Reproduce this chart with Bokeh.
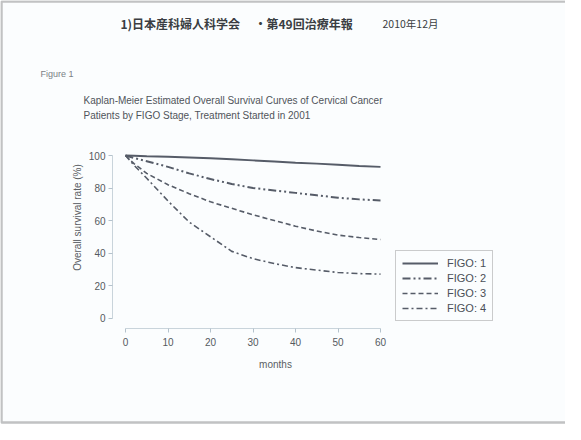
import math
from bokeh.plotting import figure
from bokeh.models import Label, BoxAnnotation, Legend, LegendItem, Range1d, FixedTicker
from bokeh.embed import file_html
from bokeh.resources import INLINE

# ---- data ----
months = [0, 2, 5, 10, 15, 20, 25, 30, 35, 40, 45, 50, 55, 60]
figo1 = [100, 99.8, 99.5, 99.2, 98.8, 98.3, 97.7, 97.0, 96.3, 95.6, 95.0, 94.3, 93.6, 93.0]
figo2 = [100, 98.5, 96.5, 93.0, 89.0, 85.5, 82.5, 80.0, 78.5, 77.0, 75.5, 74.0, 73.0, 72.3]
figo3 = [100, 95.0, 89.0, 82.0, 76.5, 71.5, 67.5, 63.5, 60.0, 56.5, 53.5, 51.0, 49.5, 48.3]
figo4 = [100, 94.0, 86.0, 72.0, 59.0, 50.0, 41.0, 36.5, 33.5, 31.0, 29.5, 28.0, 27.3, 27.0]
series_names = ["FIGO: 1", "FIGO: 2", "FIGO: 3", "FIGO: 4"]
x_ticks = [0, 10, 20, 30, 40, 50, 60]
y_ticks = [0, 20, 40, 60, 80, 100]

header1 = "1)日本産科婦人科学会"
header2 = "・第49回治療年報"
header3 = "2010年12月"
fig_label = "Figure 1"
title1 = "Kaplan-Meier Estimated Overall Survival Curves of Cervical Cancer"
title2 = "Patients by FIGO Stage, Treatment Started in 2001"
x_label = "months"
y_label = "Overall survival rate (%)"

# ---- geometry: the frame covers the whole canvas (page px = canvas px + 8) ----
W, H = 565, 424
X0_PX, X_PER = 133.0, 4.25      # page x of month 0, px per month
Y0_PX, Y_PER = 325.5, 1.625     # page y of 0 %, px per %

def xd(px):  # page x -> data
    return (px - X0_PX) / X_PER

def yd(py):  # page y -> data
    return (Y0_PX - py) / Y_PER

ink = "#4a4f57"
curve = "#565c68"
faint = "#b4c2cc"
bg = "#fbfdfe"
FONT = "Liberation Sans"
CJK = "Noto Sans CJK JP"

p = figure(width=W, height=H, output_backend="svg", toolbar_location=None,
           x_range=Range1d(xd(8), xd(8 + W)), y_range=Range1d(yd(8 + H), yd(8)),
           min_border=0, min_border_left=0, min_border_right=0,
           min_border_top=0, min_border_bottom=0)
p.background_fill_color = bg
p.border_fill_color = bg
p.outline_line_color = None
p.grid.visible = False

for ax in (p.xaxis[0], p.yaxis[0]):
    ax.axis_line_color = faint
    ax.axis_line_alpha = 0.7
    ax.major_tick_line_color = faint
    ax.major_tick_out = 4
    ax.major_tick_in = 0
    ax.minor_tick_line_color = None
    ax.major_label_text_color = "#555a60"
    ax.major_label_text_font = FONT
    ax.major_label_text_font_size = "10px"
p.xaxis[0].ticker = FixedTicker(ticks=x_ticks)
p.yaxis[0].ticker = FixedTicker(ticks=y_ticks)
p.xaxis[0].bounds = (x_ticks[0], x_ticks[-1])
p.yaxis[0].bounds = (y_ticks[0], y_ticks[-1])
p.xaxis[0].fixed_location = yd(336)
p.yaxis[0].fixed_location = xd(120)
p.xaxis[0].major_label_standoff = 5
p.yaxis[0].major_label_standoff = 3

styles = [("solid", 2.0), ("8 3 2 3 2 3", 2.0), ("5 3", 1.6), ("6 3 2 3", 1.6)]
renderers = []
for ys, (dash, lw) in zip([figo1, figo2, figo3, figo4], styles):
    r = p.line(months, ys, line_color=curve, line_width=lw, line_dash=dash)
    renderers.append(r)

legend = Legend(items=[LegendItem(label=n, renderers=[r]) for n, r in zip(series_names, renderers)],
                location=(403 - 8, (8 + H) - 329), orientation="vertical",
                glyph_width=36, glyph_height=12, label_height=12, spacing=3,
                padding=6, margin=0, label_standoff=9,
                label_text_font=FONT, label_text_font_size="11px", label_text_color=ink,
                border_line_color="#9a9a9a", border_line_width=1,
                background_fill_color=bg, background_fill_alpha=1)
p.add_layout(legend)

def lab(text, px, py, size, color=ink, align="left", style="normal", angle=0.0, font=FONT):
    p.add_layout(Label(x=xd(px), y=yd(py), text=text,
                       text_font=font, text_font_size=size, text_color=color,
                       text_align=align, text_baseline="middle", text_font_style=style,
                       angle=angle))

lab(header1, 128, 31, "12px", color="#3a3d42", style="bold", font=CJK)
lab(header2, 262, 31, "12px", color="#3a3d42", style="bold", font=CJK)
lab(header3, 390, 31, "10.5px", color="#3a3d42", font=CJK)
lab(fig_label, 48, 81, "9px", color="#7a7f86")
lab(title1, 91, 108, "10px", color="#50545a")
lab(title2, 91, 123, "10px", color="#50545a")
lab(x_label, 283, 372, "10px", color="#5a5e64", align="center")
lab(y_label, 85, 225, "10px", color="#5a5e64", align="center", angle=math.pi / 2)

# page border (scanned frame)
p.add_layout(BoxAnnotation(left=xd(9), right=xd(640), top=yd(9), bottom=yd(430),
                           fill_alpha=0, line_color="#3c3c3c", line_width=2.5))

open("out.html", "w").write(file_html(p, INLINE))
